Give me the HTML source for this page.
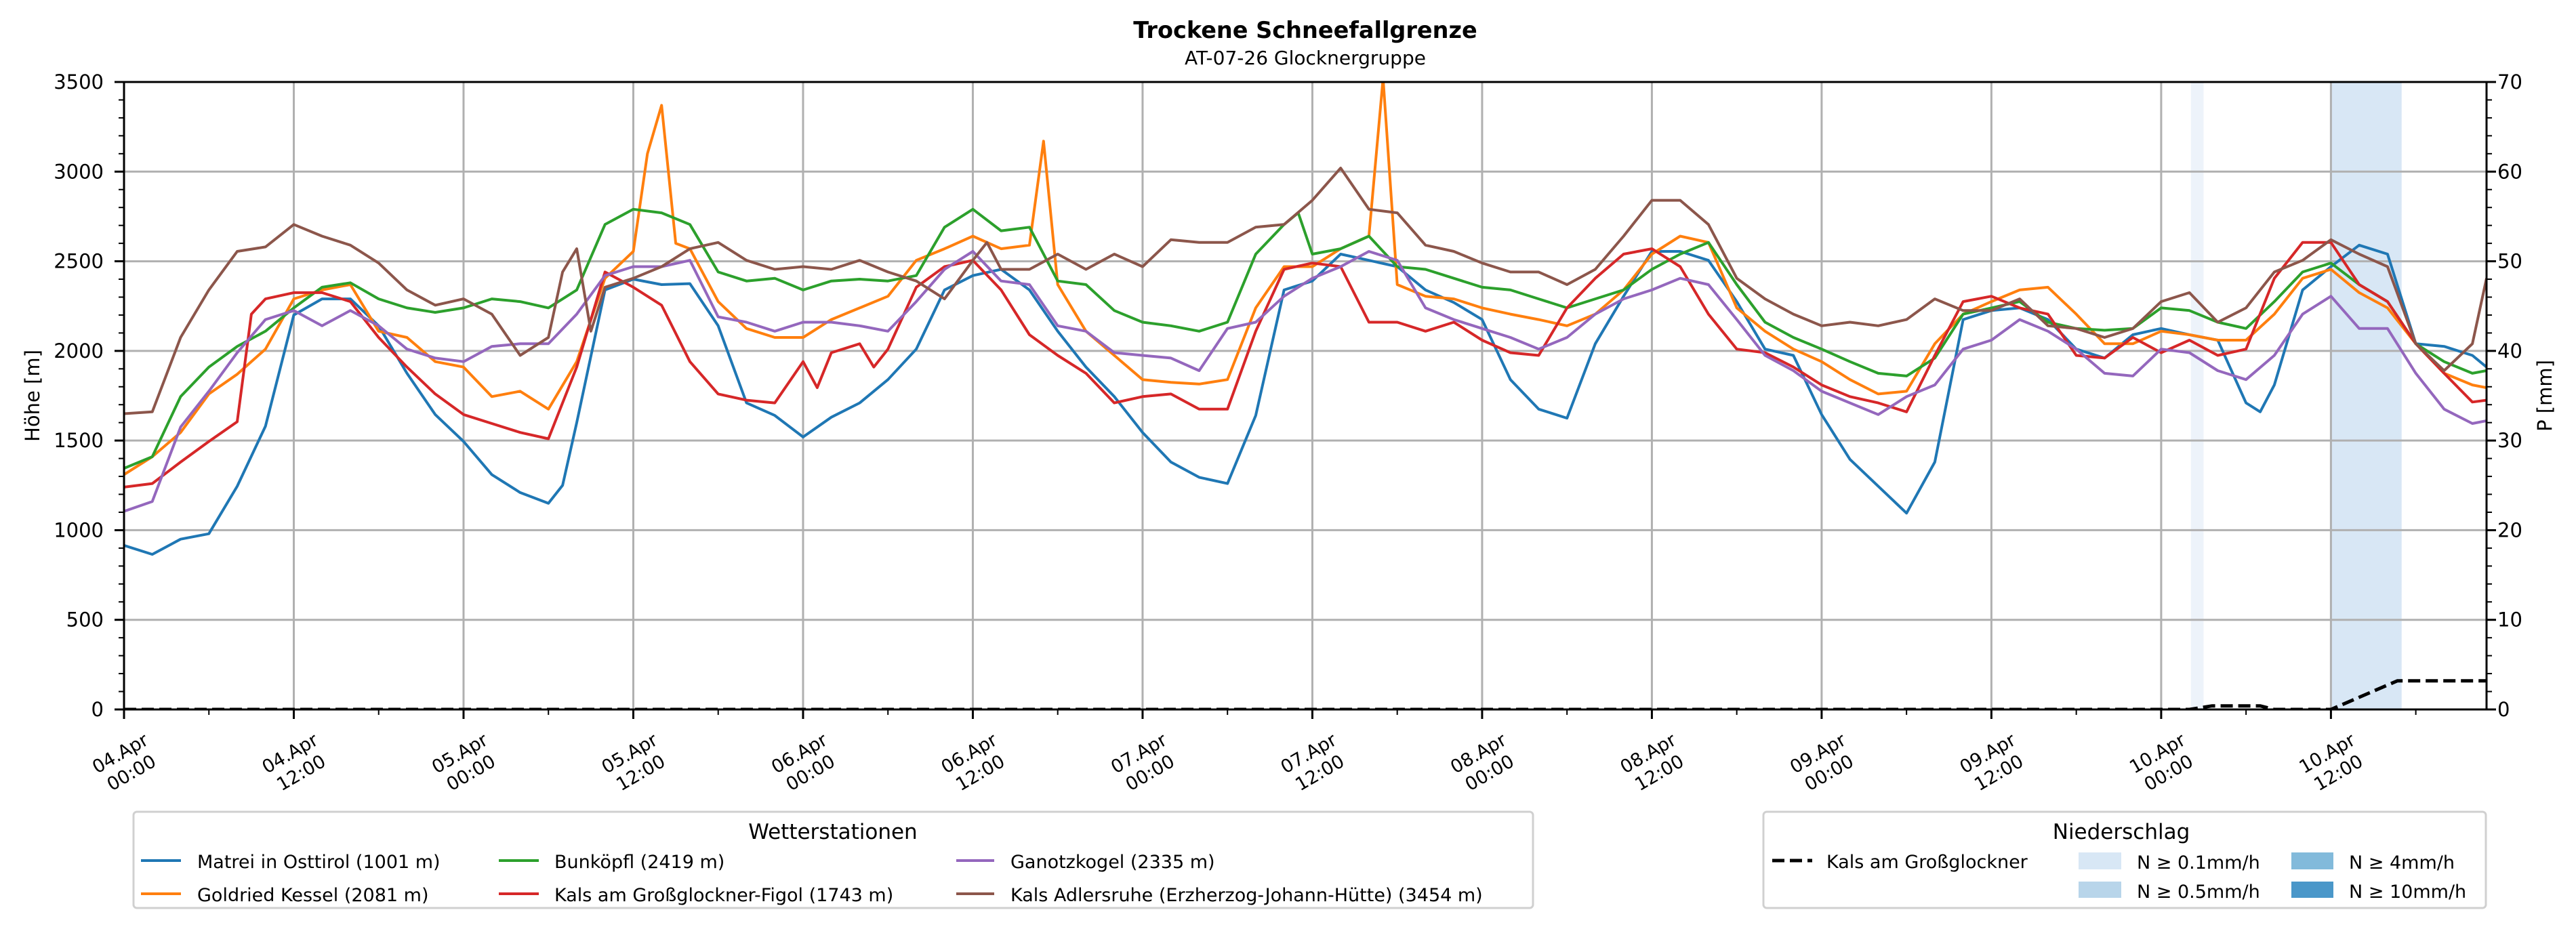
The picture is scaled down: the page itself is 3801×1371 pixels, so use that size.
<!DOCTYPE html>
<html><head><meta charset="utf-8"><style>
html,body{margin:0;padding:0;background:#fff}
svg{display:block;font-family:"DejaVu Sans","Liberation Sans",sans-serif}
</style></head><body>
<svg id="chart" xmlns="http://www.w3.org/2000/svg" width="3801" height="1371" viewBox="0 0 3801 1371">
<rect x="0" y="0" width="3801" height="1371" fill="#fff"/>
<text x="1926" y="56" text-anchor="middle" font-size="33.5" font-weight="bold">Trockene Schneefallgrenze</text>
<text x="1926" y="95" text-anchor="middle" font-size="28">AT-07-26 Glocknergruppe</text>
<defs><clipPath id="plotclip"><rect x="183" y="121" width="3486" height="926"/></clipPath></defs>
<g id="spans" clip-path="url(#plotclip)"></g>
<g id="grid"></g>
<g id="series" clip-path="url(#plotclip)"></g>
<g id="axes"></g>
<text transform="translate(58,584) rotate(-90)" text-anchor="middle" font-size="29">Höhe [m]</text>
<text transform="translate(3765,584) rotate(-90)" text-anchor="middle" font-size="29">P [mm]</text>

<g>
<rect x="197" y="1198" width="2065" height="142" fill="#fff" stroke="#d0d0d0" stroke-width="3" rx="5"/>
<text x="1229" y="1238" text-anchor="middle" font-size="31">Wetterstationen</text>
<g><line x1="208" y1="1270" x2="267" y2="1270" stroke="#1f77b4" stroke-width="4"/><text x="291" y="1281" font-size="27">Matrei in Osttirol (1001 m)</text></g>
<g><line x1="208" y1="1319" x2="267" y2="1319" stroke="#ff7f0e" stroke-width="4"/><text x="291" y="1330" font-size="27">Goldried Kessel (2081 m)</text></g>
<g><line x1="736" y1="1270" x2="795" y2="1270" stroke="#2ca02c" stroke-width="4"/><text x="818" y="1281" font-size="27">Bunköpfl (2419 m)</text></g>
<g><line x1="736" y1="1319" x2="795" y2="1319" stroke="#d62728" stroke-width="4"/><text x="818" y="1330" font-size="27">Kals am Großglockner-Figol (1743 m)</text></g>
<g><line x1="1411" y1="1270" x2="1467" y2="1270" stroke="#9467bd" stroke-width="4"/><text x="1491" y="1281" font-size="27">Ganotzkogel (2335 m)</text></g>
<g><line x1="1411" y1="1319" x2="1467" y2="1319" stroke="#8c564b" stroke-width="4"/><text x="1491" y="1330" font-size="27">Kals Adlersruhe (Erzherzog-Johann-Hütte) (3454 m)</text></g>
</g>

<g>
<rect x="2602" y="1198" width="1066" height="142" fill="#fff" stroke="#d0d0d0" stroke-width="3" rx="5"/>
<text x="3130" y="1238" text-anchor="middle" font-size="31">Niederschlag</text>
<g><line x1="2615" y1="1270" x2="2674" y2="1270" stroke="#000" stroke-width="5" stroke-dasharray="18 8"/><text x="2695" y="1281" font-size="27">Kals am Großglockner</text></g>
<g><rect x="3067" y="1258" width="63" height="25" fill="#d8e7f5"/><text x="3153" y="1282" font-size="27">N ≥ 0.1mm/h</text></g>
<g><rect x="3067" y="1301" width="63" height="24" fill="#b8d5ea"/><text x="3153" y="1325" font-size="27">N ≥ 0.5mm/h</text></g>
<g><rect x="3381" y="1258" width="62" height="25" fill="#82badb"/><text x="3466" y="1282" font-size="27">N ≥ 4mm/h</text></g>
<g><rect x="3381" y="1301" width="62" height="24" fill="#4a97c9"/><text x="3466" y="1325" font-size="27">N ≥ 10mm/h</text></g>
</g>
</svg>
<script>
const hoursBase = [0,2,4,6,8,10,12,14,16,18,20,22,24,26,28,30,32,34,36,38,40,42,44,46,48,50,52,54,56,58,60,62,64,66,68,70,72,74,76,78,80,82,84,86,88,90,92,94,96,98,100,102,104,106,108,110,112,114,116,118,120,122,124,126,128,130,132,134,136,138,140,142,144,146,148,150,152,154,156,158,160,162,164,166,167];
const matreiV = [915,865,950,980,1245,1580,2200,2290,2290,2140,1875,1645,1495,1310,1210,1150,1600,2340,2400,2370,2375,2140,1710,1640,1520,1630,1710,1840,2010,2340,2420,2455,2340,2110,1910,1745,1545,1380,1295,1260,1640,2340,2390,2540,2505,2470,2340,2270,2175,1840,1675,1625,2040,2305,2555,2555,2505,2275,2010,1975,1645,1395,1245,1095,1380,2175,2225,2240,2175,2010,1960,2090,2125,2090,2060,1710,1810,2340,2470,2590,2540,2040,2025,1975,1910];
const matreiExH = [31,151];
const matreiExV = [1250,1660];
const goldriedV = [1310,1410,1545,1760,1870,2010,2290,2340,2370,2110,2075,1940,1910,1745,1775,1675,1940,2405,2555,3370,2570,2275,2125,2075,2075,2175,2240,2305,2505,2570,2640,2570,2590,2370,2110,1975,1840,1825,1815,1840,2240,2470,2470,2570,2640,2370,2305,2290,2240,2205,2175,2140,2205,2340,2540,2640,2605,2240,2110,2010,1940,1840,1760,1775,2040,2205,2275,2340,2355,2205,2040,2040,2110,2090,2060,2060,2205,2405,2455,2325,2240,2040,1875,1810,1795];
const goldriedExH = [37,39,65,89];
const goldriedExV = [3100,2600,3170,3520];
const bunkoepflV = [1345,1410,1745,1910,2025,2110,2240,2355,2380,2290,2240,2215,2240,2290,2275,2240,2340,2705,2790,2770,2705,2440,2390,2405,2340,2390,2400,2390,2420,2690,2790,2670,2690,2390,2370,2225,2160,2140,2110,2160,2540,2705,2540,2570,2640,2470,2455,2405,2355,2340,2290,2240,2290,2340,2455,2540,2605,2370,2160,2075,2010,1940,1875,1860,1960,2205,2240,2275,2160,2125,2115,2125,2240,2225,2160,2125,2275,2440,2490,2370,2275,2040,1940,1875,1890];
const bunkoepflExH = [83];
const bunkoepflExV = [2770];
const figolV = [1240,1260,1380,1495,1605,2290,2325,2325,2275,2075,1910,1760,1645,1595,1545,1510,1910,2440,2355,2255,1940,1760,1725,1710,1940,1990,2040,2010,2355,2470,2505,2340,2090,1975,1875,1710,1745,1760,1675,1675,2110,2455,2490,2470,2160,2160,2110,2160,2060,1990,1975,2240,2405,2540,2570,2470,2205,2010,1990,1910,1810,1745,1710,1660,1975,2275,2305,2240,2205,1975,1960,2075,1990,2060,1975,2010,2405,2605,2605,2370,2275,2040,1875,1715,1725];
const figolExH = [9,49,53];
const figolExV = [2205,1795,1910];
const ganotzV = [1105,1160,1575,1775,1990,2175,2225,2140,2225,2140,2010,1960,1940,2025,2040,2040,2205,2420,2470,2470,2505,2190,2160,2110,2160,2160,2140,2110,2275,2455,2555,2390,2370,2140,2110,1990,1975,1960,1890,2125,2160,2305,2405,2470,2555,2505,2240,2175,2125,2075,2010,2075,2205,2290,2340,2405,2370,2175,1975,1890,1775,1710,1645,1745,1810,2010,2060,2175,2110,2010,1875,1860,2010,1990,1890,1840,1975,2205,2305,2125,2125,1875,1675,1595,1610];
const ganotzExH = [];
const ganotzExV = [];
const adlersV = [1650,1660,2075,2340,2555,2580,2705,2640,2590,2490,2340,2255,2290,2205,1975,2075,2570,2355,2405,2470,2570,2605,2505,2455,2470,2455,2505,2440,2390,2290,2505,2455,2455,2540,2455,2540,2470,2620,2605,2605,2690,2705,2840,3020,2790,2770,2590,2555,2490,2440,2440,2370,2455,2640,2840,2840,2705,2405,2290,2205,2140,2160,2140,2175,2290,2225,2225,2290,2140,2125,2075,2125,2275,2325,2160,2240,2440,2505,2620,2540,2470,2040,1890,2040,2405];
const adlersExH = [31,33,61];
const adlersExV = [2440,2110,2605];
const precipH = [0,146,147.6,151,152,156,160.7,167];
const precipV = [0,0,0.4,0.4,0,0,3.2,3.2];
const spanStartH = [146.1,156];
const spanEndH = [147,161];
const spanFill = ['#edf3fa','#d8e7f5'];
const xTickLabels1 = ['04.Apr','04.Apr','05.Apr','05.Apr','06.Apr','06.Apr','07.Apr','07.Apr','08.Apr','08.Apr','09.Apr','09.Apr','10.Apr','10.Apr'];
const xTickLabels2 = ['00:00','12:00','00:00','12:00','00:00','12:00','00:00','12:00','00:00','12:00','00:00','12:00','00:00','12:00'];
const yTicks = [0,500,1000,1500,2000,2500,3000,3500];
const y2Ticks = [0,10,20,30,40,50,60,70];

const NS='http://www.w3.org/2000/svg';
const X0=183,X1=3669,Y0=1047,Y1=121,HMAX=167;
function xs(h){return X0+(X1-X0)*h/HMAX;}
function ys(v){return Y0-(Y0-Y1)*v/3500;}
function ys2(v){return Y0-(Y0-Y1)*v/70;}
function mk(tag,attrs,parent){const e=document.createElementNS(NS,tag);for(const k in attrs)e.setAttribute(k,attrs[k]);parent.appendChild(e);return e;}
function merge(h,v,eh,ev){const p=h.map((x,i)=>[x,v[i]]);eh.forEach((x,i)=>p.push([x,ev[i]]));p.sort((a,b)=>a[0]-b[0]);return p;}

const gSp=document.getElementById('spans');
spanStartH.forEach((s,i)=>{
  const r=mk('rect',{x:xs(s),y:Y1,width:xs(spanEndH[i])-xs(s),height:Y0-Y1,fill:spanFill[i]},gSp);
  
  
});

const gG=document.getElementById('grid');
for(let h=0;h<=HMAX;h+=12){const l=mk('line',{x1:xs(h),x2:xs(h),y1:Y1,y2:Y0,stroke:'#b0b0b0','stroke-width':3},gG);
  
  }
yTicks.forEach(v=>{const l=mk('line',{x1:X0,x2:X1,y1:ys(v),y2:ys(v),stroke:'#b0b0b0','stroke-width':3},gG);
  
  });

const gS=document.getElementById('series');
const series=[
 ['matrei-line','#1f77b4',merge(hoursBase,matreiV,matreiExH,matreiExV)],
 ['goldried-line','#ff7f0e',merge(hoursBase,goldriedV,goldriedExH,goldriedExV)],
 ['bunkoepfl-line','#2ca02c',merge(hoursBase,bunkoepflV,bunkoepflExH,bunkoepflExV)],
 ['kals-figol-line','#d62728',merge(hoursBase,figolV,figolExH,figolExV)],
 ['ganotzkogel-line','#9467bd',merge(hoursBase,ganotzV,ganotzExH,ganotzExV)],
 ['kals-adlersruhe-line','#8c564b',merge(hoursBase,adlersV,adlersExH,adlersExV)]
];
series.forEach(s=>{
  const d=s[2].map((p,i)=>(i?'L':'M')+xs(p[0]).toFixed(1)+' '+ys(p[1]).toFixed(1)).join(' ');
  const p=mk('path',{d:d,fill:'none',stroke:s[1],'stroke-width':4,'stroke-linejoin':'round'},gS);
  
  
});
const pd=precipH.map((h,i)=>(i?'L':'M')+xs(h).toFixed(1)+' '+ys2(precipV[i]).toFixed(1)).join(' ');
const pp=mk('path',{d:pd,fill:'none',stroke:'#000','stroke-width':5,'stroke-dasharray':'18 8'},gS);



const gA=document.getElementById('axes');
const frame=mk('rect',{x:X0,y:Y1,width:X1-X0,height:Y0-Y1,fill:'none',stroke:'#000','stroke-width':3},gA);


for(let v=0;v<=3500;v+=100){const maj=v%500===0;mk('line',{x1:X0,x2:X0-(maj?14:8),y1:ys(v),y2:ys(v),stroke:'#000','stroke-width':maj?3:2},gA);}
yTicks.forEach(v=>{const t=mk('text',{x:153,y:ys(v)+10,'text-anchor':'end','font-size':29},gA);t.textContent=v;
  
  });
for(let v=0;v<=70;v+=2){const maj=v%10===0;mk('line',{x1:X1,x2:X1+(maj?14:8),y1:ys2(v),y2:ys2(v),stroke:'#000','stroke-width':maj?3:2},gA);}
y2Ticks.forEach(v=>{const t=mk('text',{x:3685,y:ys2(v)+10,'font-size':29},gA);t.textContent=v;
  
  });
for(let h=0;h<=HMAX;h+=6){const maj=h%12===0;mk('line',{x1:xs(h),x2:xs(h),y1:Y0,y2:Y0+(maj?14:8),stroke:'#000','stroke-width':maj?3:2},gA);}
xTickLabels1.forEach((lab,i)=>{
  const g=mk('g',{transform:'translate('+(xs(i*12)+2)+',1125) rotate(-30)'},gA);
  
  
  const t1=mk('text',{x:0,y:-6,'text-anchor':'middle','font-size':27},g);t1.textContent=lab;
  const t2=mk('text',{x:0,y:27,'text-anchor':'middle','font-size':27},g);t2.textContent=xTickLabels2[i];
});
</script>
</body></html>
